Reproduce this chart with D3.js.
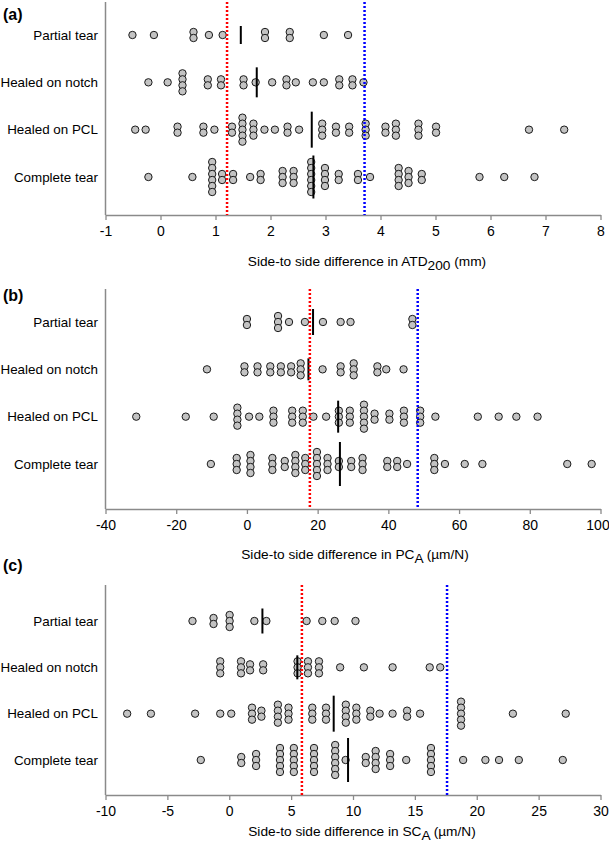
<!DOCTYPE html>
<html><head><meta charset="utf-8">
<script src="https://cdn.jsdelivr.net/npm/d3@7"></script>
<style>
body{margin:0;background:#fff}
svg{display:block}
text{font-family:Arial,"Liberation Sans",sans-serif}
</style>
</head><body>
<svg id="chart" width="609" height="845"></svg>
<script>
// ---------- DATA ----------
const categories = ["Partial tear","Healed on notch","Healed on PCL","Complete tear"];

// (a) Side-to-side difference in ATD200 (mm)
const atdPartial  = [-0.51,-0.12,0.60,0.60,0.88,1.13,1.90,1.90,2.35,2.35,2.97,3.41];
const atdNotch    = [-0.22,0.13,0.40,0.40,0.40,0.40,0.86,0.86,1.10,1.10,1.51,1.51,1.73,2.03,2.29,2.29,2.46,2.77,2.97,3.25,3.25,3.49,3.49,3.69];
const atdPCL      = [-0.46,-0.27,0.31,0.31,0.78,0.78,0.98,1.30,1.30,1.49,1.49,1.49,1.49,1.49,1.69,1.69,1.69,1.89,2.08,2.31,2.31,2.52,2.94,2.94,2.94,3.19,3.19,3.43,3.43,3.73,3.73,3.73,4.09,4.09,4.28,4.28,4.28,4.69,4.69,4.69,5.01,5.01,6.70,7.34];
const atdComplete = [-0.22,0.58,0.94,0.94,0.94,0.94,0.94,0.94,1.12,1.12,1.32,1.32,1.63,1.82,1.82,2.22,2.22,2.22,2.42,2.42,2.42,2.74,2.74,2.74,2.74,2.74,2.74,2.99,2.99,2.99,2.99,3.24,3.24,3.59,3.59,3.81,4.33,4.33,4.33,4.33,4.51,4.51,4.51,4.75,4.75,5.80,6.25,6.80];
const atdMedians  = [1.46,1.75,2.75,2.78];
const atdRed = 1.21, atdBlue = 3.71;
const atdTicks = [-1,0,1,2,3,4,5,6,7,8];

// (b) Side-to-side difference in PCA (µm/N)
const pcPartial  = [0,0,8.8,8.8,8.8,11.9,16.4,21.5,26.5,29.3,46.8,46.8];
const pcNotch    = [-11.3,-0.7,-0.7,3.0,3.0,6.6,6.6,9.6,9.6,12.5,12.5,15.2,15.2,15.2,21.4,26.5,26.5,30.2,30.2,30.2,36.9,36.9,39.4,44.3];
const pcPCL      = [-31.3,-17.3,-9.4,-2.7,-2.7,-2.7,-2.7,0.6,3.5,7.5,7.5,7.5,12.8,12.8,12.8,15.8,15.8,15.8,18.8,22.4,26.0,26.0,26.0,29.1,29.1,29.1,33.1,33.1,33.1,33.1,33.1,36.1,36.1,40.3,40.3,44.4,44.4,44.4,49.0,49.0,49.0,53.3,65.3,71.2,76.2,82.2];
const pcComplete = [-10.2,-2.9,-2.9,-2.9,1.0,1.0,1.0,1.0,7.2,7.2,7.2,10.7,10.7,13.7,13.7,13.7,13.7,16.5,16.5,16.5,19.8,19.8,19.8,19.8,19.8,22.8,22.8,22.8,26.0,26.0,29.5,29.5,32.7,32.7,32.7,39.7,39.7,42.5,42.5,45.3,53.0,53.0,53.0,56.0,61.6,66.6,90.6,97.5];
const pcMedians  = [18.7,17.4,25.8,26.3];
const pcRed = 17.8, pcBlue = 48.3;
const pcTicks = [-40,-20,0,20,40,60,80,100];

// (c) Side-to-side difference in SCA (µm/N)
const scPartial  = [-2.97,-1.27,-1.27,0.03,0.03,0.03,2.03,3.0,6.25,7.52,8.52,10.2];
const scNotch    = [-0.73,-0.73,-0.73,0.95,0.95,0.95,1.68,1.68,2.74,2.74,5.52,5.52,5.52,6.36,6.36,6.36,7.25,7.25,7.25,8.96,10.88,13.2,16.2,17.05];
const scPCL      = [-8.25,-6.33,-2.76,-0.73,0.16,1.84,1.84,1.84,2.60,2.60,3.93,3.93,3.93,3.93,4.79,4.79,4.79,6.71,6.71,6.71,7.82,7.82,7.82,9.42,9.42,9.42,9.42,10.27,10.27,10.27,11.4,11.4,12.15,13.2,14.37,14.37,15.42,18.73,18.73,18.73,18.73,18.73,22.92,27.19];
const scComplete = [-2.3,0.97,0.97,2.17,2.17,2.17,4.1,4.1,4.1,4.1,4.1,5.22,5.22,5.22,5.22,5.22,6.85,6.85,6.85,6.85,6.85,8.56,8.56,8.56,8.56,8.56,8.56,9.4,11.03,11.03,11.83,11.83,11.83,11.83,13.0,13.0,13.0,14.3,16.3,16.3,16.3,16.3,16.3,18.9,20.7,21.8,23.4,26.95];
const scMedians  = [2.68,5.5,8.44,9.6];
const scRed = 5.87, scBlue = 17.6;
const scTicks = [-10,-5,0,5,10,15,20,25,30];

// ---------- LAYOUT / STYLE ----------
const panels = [
  {tag:"(a)", tagY:20, series:[atdPartial,atdNotch,atdPCL,atdComplete], medians:atdMedians, red:atdRed, blue:atdBlue,
   ticks:atdTicks, domain:[-1,8], top:2, rows:[35,177], axisY:215, titleY:266, titleX:367,
   titleMain:"Side-to side difference in ATD", titleSub:"200", titleEnd:" (mm)", medHalf:[9,15,18,21.5]},
  {tag:"(b)", tagY:301, series:[pcPartial,pcNotch,pcPCL,pcComplete], medians:pcMedians, red:pcRed, blue:pcBlue,
   ticks:pcTicks, domain:[-40,100], top:289, rows:[322,464], axisY:509, titleY:559, titleX:355,
   titleMain:"Side-to side difference in PC", titleSub:"A", titleEnd:" (\u00b5m/N)", medHalf:[13,11,16,22]},
  {tag:"(c)", tagY:571, series:[scPartial,scNotch,scPCL,scComplete], medians:scMedians, red:scRed, blue:scBlue,
   ticks:scTicks, domain:[-10,30], top:585, rows:[621,760], axisY:795, titleY:836, titleX:362,
   titleMain:"Side-to side difference in SC", titleSub:"A", titleEnd:" (\u00b5m/N)", medHalf:[12.5,12,18,22]}
];
const X0 = 105.5, X1 = 600.5, R = 3.7, STACK = 6;
const axisColor = "#8a8a8a";

const svg = d3.select("#chart");

panels.forEach(p => {
  const g = svg.append("g");
  const x = d3.scaleLinear().domain(p.domain).range([X0, X1]);
  const y = d3.scalePoint().domain(categories).range(p.rows);

  // y axis line
  g.append("line").attr("x1",X0).attr("x2",X0).attr("y1",p.top).attr("y2",p.axisY)
    .attr("stroke",axisColor).attr("stroke-width",1.5);

  // x axis
  const ax = g.append("g").attr("transform",`translate(0,${p.axisY})`)
    .call(d3.axisBottom(x).tickValues(p.ticks).tickFormat(d=>String(d))
      .tickSize(5).tickPadding(6).tickSizeOuter(0));
  ax.select(".domain").attr("stroke",axisColor).attr("stroke-width",1.5);
  ax.selectAll(".tick line").attr("stroke",axisColor).attr("stroke-width",1.3);
  ax.selectAll(".tick text").attr("font-size",14).attr("fill","#000")
    .attr("font-family",'Arial,"Liberation Sans",sans-serif')
    .attr("dx",(d,i,n)=> i===n.length-1 && String(d).length>2 ? -3 : 0);

  // category labels
  g.selectAll("text.cat").data(categories).enter().append("text").attr("class","cat")
    .attr("x",98).attr("y",d=>y(d)).attr("dy","0.35em").attr("text-anchor","end")
    .attr("font-size",13.4).attr("fill","#000").text(d=>d);

  // dots (stacked equal values)
  categories.forEach((cat,ci) => {
    const groups = d3.groups(p.series[ci], v=>v);
    const pts = [];
    groups.forEach(([v,arr]) => {
      const n = arr.length;
      arr.forEach((_,i) => pts.push({v, off:(i-(n-1)/2)*STACK}));
    });
    g.selectAll(null).data(pts).enter().append("circle")
      .attr("cx",d=>x(d.v)).attr("cy",d=>y(cat)+d.off).attr("r",R)
      .attr("fill","#c3c3c3").attr("stroke","#1a1a1a").attr("stroke-width",1);
    // median line
    g.append("line").attr("x1",x(p.medians[ci])).attr("x2",x(p.medians[ci]))
      .attr("y1",y(cat)-p.medHalf[ci]).attr("y2",y(cat)+p.medHalf[ci])
      .attr("stroke","#000").attr("stroke-width",2);
  });

  // threshold dotted lines
  [[p.red,"#ff0000"],[p.blue,"#0000ff"]].forEach(([v,c]) => {
    g.append("line").attr("x1",x(v)).attr("x2",x(v)).attr("y1",p.top).attr("y2",p.axisY)
      .attr("stroke",c).attr("stroke-width",2.5).attr("stroke-dasharray","2,2");
  });

  // panel tag
  g.append("text").attr("x",3).attr("y",p.tagY).attr("font-size",16).attr("font-weight","bold").text(p.tag);

  // axis title
  const t = g.append("text").attr("x",p.titleX).attr("y",p.titleY).attr("text-anchor","middle")
    .attr("font-size",13.7).attr("fill","#000");
  t.append("tspan").text(p.titleMain);
  t.append("tspan").attr("dy",4).text(p.titleSub);
  t.append("tspan").attr("dy",-4).text(p.titleEnd);
});
</script>
</body></html>
